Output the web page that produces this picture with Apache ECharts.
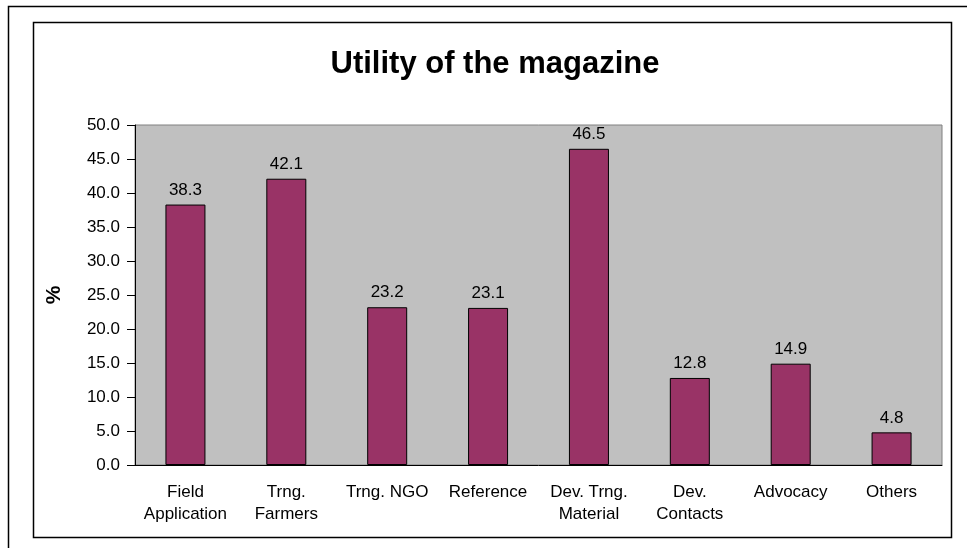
<!DOCTYPE html>
<html>
<head>
<meta charset="utf-8">
<script src="https://cdn.jsdelivr.net/npm/echarts@6/dist/echarts.min.js"></script>
<style>
  html, body { margin: 0; padding: 0; background: #fff; }
  #chart { width: 967px; height: 548px; }
</style>
</head>
<body>
<div id="chart"></div>
<script>
const categories = ['Field\nApplication', 'Trng.\nFarmers', 'Trng. NGO', 'Reference', 'Dev. Trng.\nMaterial', 'Dev.\nContacts', 'Advocacy', 'Others']
const values = [38.3, 42.1, 23.2, 23.1, 46.5, 12.8, 14.9, 4.8]

const chart = echarts.init(document.getElementById('chart'))
const font = 'Liberation Sans, Arial, sans-serif'

chart.setOption({
  backgroundColor: '#fff',
  animation: false,
  title: {
    text: 'Utility of the magazine',
    left: 490,
    top: 44,
    textAlign: 'center',
    textStyle: { fontFamily: font, fontSize: 31, fontWeight: 'bold', color: '#000' }
  },
  graphic: [
    // outer frame (runs past the right and bottom edge)
    { type: 'rect', shape: { x: 8.5, y: 6.5, width: 1000, height: 600 }, style: { fill: 'none', stroke: '#000', lineWidth: 1.5 }, z: -1 },
    // chart area frame
    { type: 'rect', shape: { x: 33.5, y: 22.5, width: 918, height: 515 }, style: { fill: '#fff', stroke: '#000', lineWidth: 1.5 }, z: -1 }
  ],
  grid: {
    left: 135,
    top: 125,
    right: 25,
    bottom: 83,
    show: true,
    backgroundColor: '#C0C0C0',
    borderColor: '#808080',
    borderWidth: 1
  },
  xAxis: {
    type: 'category',
    data: categories,
    axisLine: { lineStyle: { color: '#000', width: 1 } },
    axisTick: { length: 6, lineStyle: { color: '#000' } },
    axisLabel: { color: '#000', fontFamily: font, fontSize: 17, margin: 16, lineHeight: 22, interval: 0 }
  },
  yAxis: {
    type: 'value',
    min: 0,
    max: 50,
    interval: 5,
    name: '%',
    nameLocation: 'middle',
    nameGap: 70,
    nameRotate: 90,
    nameTextStyle: { fontFamily: font, fontSize: 21, fontWeight: 'bold', color: '#000' },
    axisLine: { show: true, lineStyle: { color: '#000', width: 1 } },
    axisTick: { show: true, length: 8, lineStyle: { color: '#000' } },
    splitLine: { show: false },
    axisLabel: {
      color: '#000', fontFamily: font, fontSize: 17, margin: 15,
      formatter: (v) => v.toFixed(1)
    }
  },
  series: [
    {
      type: 'bar',
      data: values,
      barWidth: 40,
      itemStyle: { color: '#993366', borderColor: '#000', borderWidth: 1 },
      label: {
        show: true,
        position: 'top',
        distance: 6,
        color: '#000',
        fontFamily: font,
        fontSize: 17,
        formatter: (p) => p.value.toFixed(1)
      }
    }
  ]
})
</script>
</body>
</html>
